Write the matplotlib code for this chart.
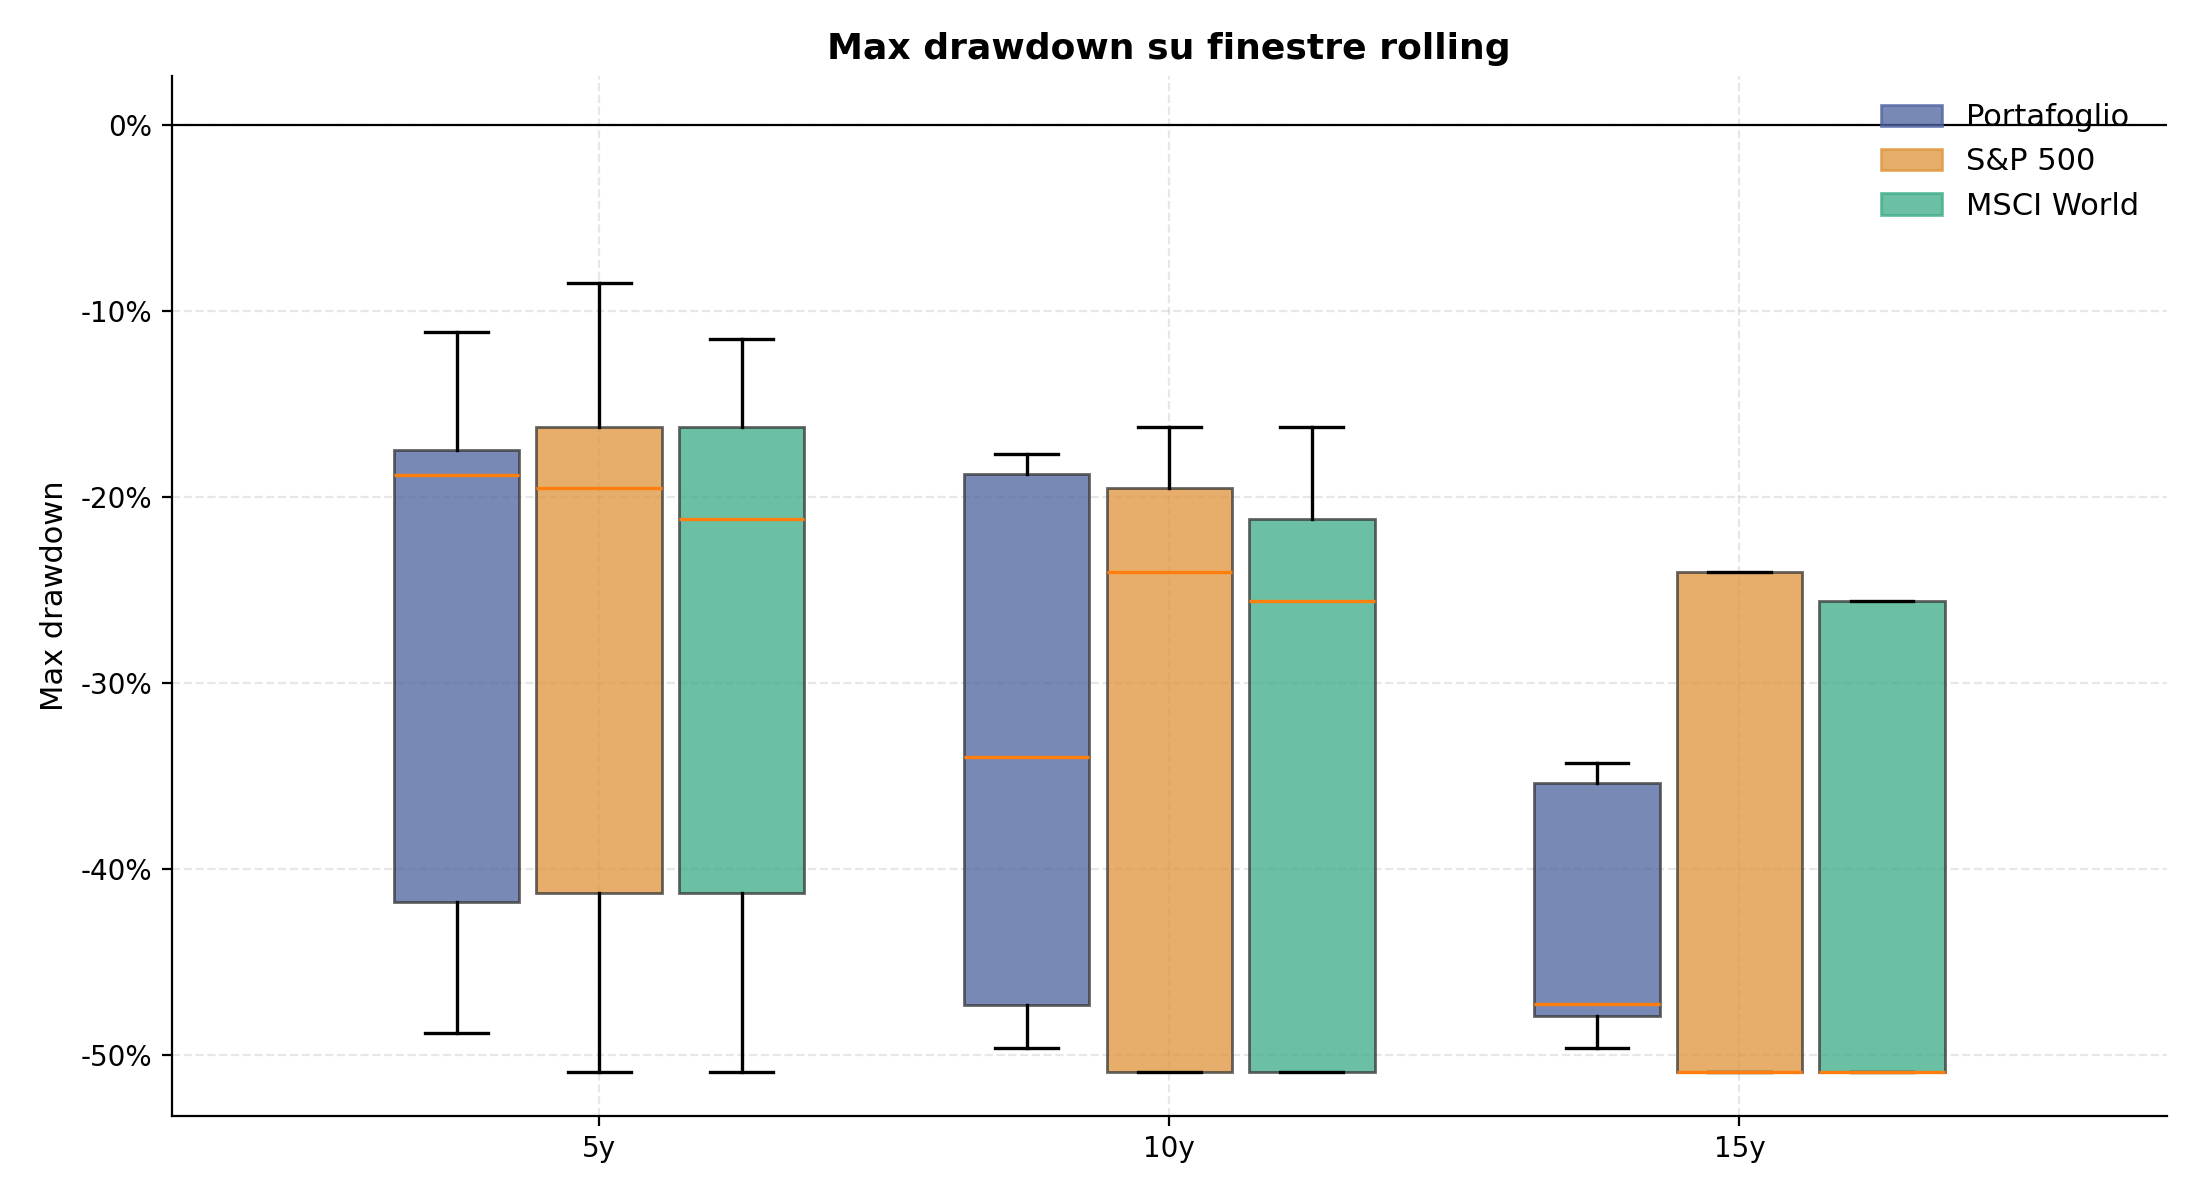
import matplotlib
matplotlib.use("Agg")
import matplotlib.pyplot as plt
from matplotlib.patches import Patch
from matplotlib.ticker import FuncFormatter

categories = ["5y", "10y", "15y"]
series = ["Portafoglio", "S&P 500", "MSCI World"]
colors = ["#4C629E", "#DF9238", "#38AA86"]

# box statistics per series, one entry per category (values in %)
port_whislo = [-48.86, -49.67, -49.67]
port_q1 = [-41.79, -47.35, -47.93]
port_med = [-18.81, -34.00, -47.30]
port_q3 = [-17.47, -18.76, -35.41]
port_whishi = [-11.16, -17.73, -34.32]

sp_whislo = [-50.96, -50.96, -50.96]
sp_q1 = [-41.30, -50.96, -50.96]
sp_med = [-19.51, -24.04, -50.96]
sp_q3 = [-16.28, -19.55, -24.03]
sp_whishi = [-8.53, -16.28, -24.03]

msci_whislo = [-50.96, -50.96, -50.96]
msci_q1 = [-41.30, -50.96, -50.96]
msci_med = [-21.18, -25.60, -50.96]
msci_q3 = [-16.28, -21.20, -25.60]
msci_whishi = [-11.54, -16.28, -25.60]

all_stats = [
    (port_whislo, port_q1, port_med, port_q3, port_whishi),
    (sp_whislo, sp_q1, sp_med, sp_q3, sp_whishi),
    (msci_whislo, msci_q1, msci_med, msci_q3, msci_whishi),
]

fig, ax = plt.subplots(figsize=(11, 6), dpi=200)

offsets = [-0.25, 0.0, 0.25]
width = 0.22
for s_idx, (lo, q1, med, q3, hi) in enumerate(all_stats):
    stats = []
    for i in range(len(categories)):
        stats.append(dict(whislo=lo[i], q1=q1[i], med=med[i], q3=q3[i],
                          whishi=hi[i], fliers=[]))
    positions = [i + offsets[s_idx] for i in range(len(categories))]
    bp = ax.bxp(stats, positions=positions, widths=width, patch_artist=True,
                showfliers=False, manage_ticks=False,
                boxprops=dict(linewidth=1.0, edgecolor="#333333"),
                medianprops=dict(color="#ff7f0e", linewidth=1.2),
                whiskerprops=dict(color="black", linewidth=1.2),
                capprops=dict(color="black", linewidth=1.2))
    for b in bp["boxes"]:
        b.set_facecolor(colors[s_idx])
        b.set_alpha(0.75)

ax.axhline(0, color="black", linewidth=0.8)

ax.set_xticks(range(len(categories)))
ax.set_xticklabels(categories, fontsize=10)
ax.set_xlim(-0.75, 2.75)
ax.set_ylim(-53.3, 2.64)
ax.yaxis.set_major_formatter(FuncFormatter(lambda v, p: f"{v:.0f}%"))
ax.tick_params(axis="y", labelsize=10)
ax.set_ylabel("Max drawdown", fontsize=11)
ax.set_title("Max drawdown su finestre rolling", fontsize=13, fontweight="bold")
ax.grid(True, linestyle="--", alpha=0.3)
ax.spines["top"].set_visible(False)
ax.spines["right"].set_visible(False)

handles = [Patch(facecolor=c, edgecolor=c, alpha=0.75, label=n) for c, n in zip(colors, series)]
ax.legend(handles=handles, loc="upper right", frameon=False, fontsize=11)

fig.subplots_adjust(left=0.078, right=0.985, top=0.937, bottom=0.07)
fig.savefig("out.png", dpi=200)
